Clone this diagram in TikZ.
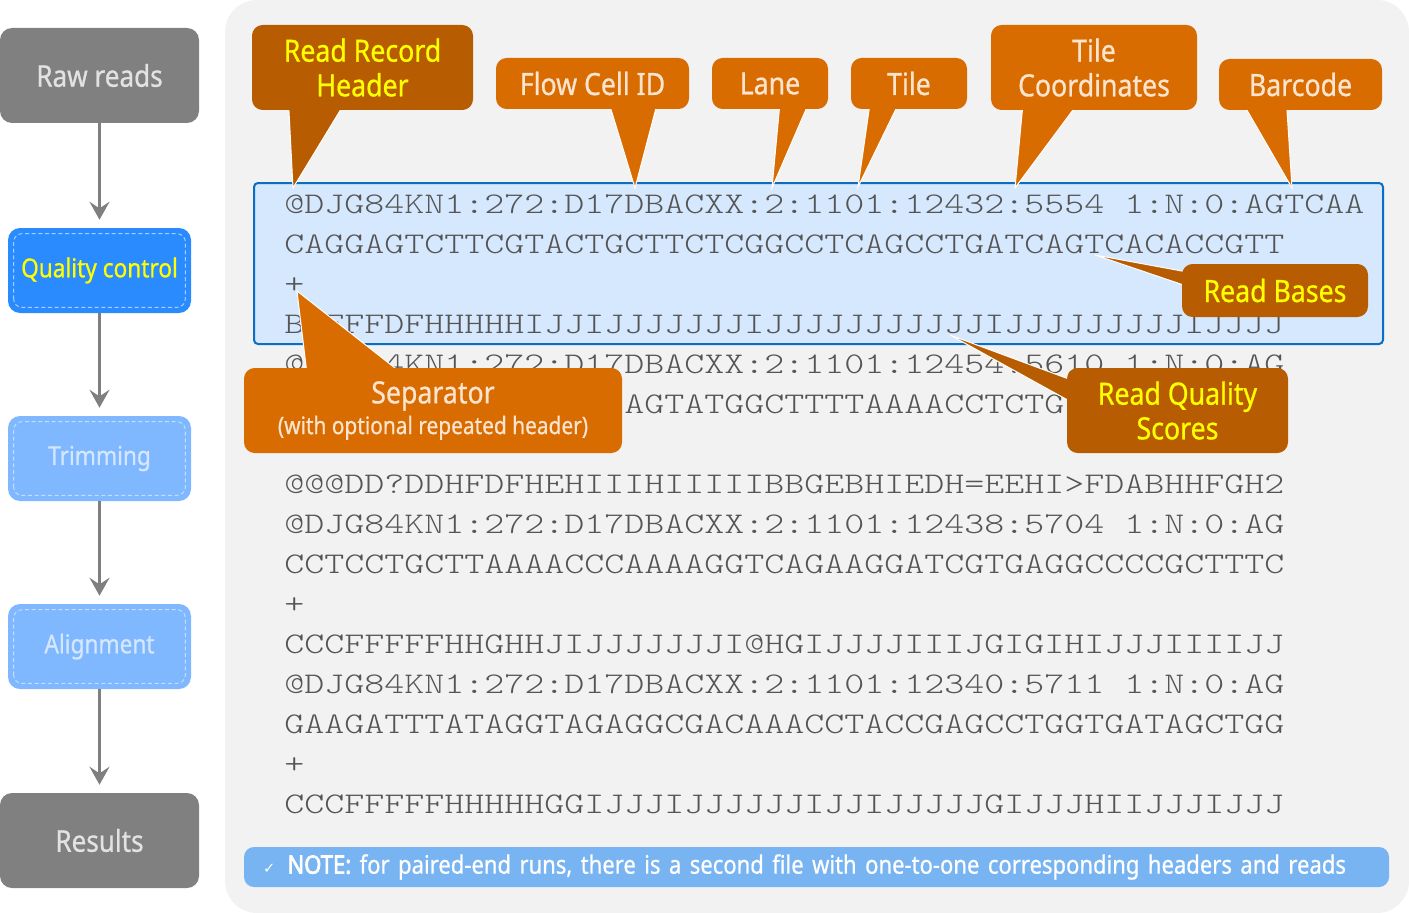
\documentclass[tikz,border=0pt]{standalone}
\usepackage{fontspec}
\setmainfont{Noto Sans}[FakeStretch=0.87, FakeBold=0.7]
\newfontfamily\notebold{Noto Sans}[FakeStretch=0.87, FakeBold=2.6]
\newfontfamily\seqfont{lmmonolt10-regular.otf}[FakeStretch=1.27]
\newfontfamily\symfont{DejaVu Sans}
\usetikzlibrary{arrows.meta,calc}

\definecolor{panelgray}{HTML}{F2F2F2}
\definecolor{hlblue}{HTML}{D6E8FE}
\definecolor{hlline}{HTML}{0A6EC4}
\definecolor{darkorange}{HTML}{B75C00}
\definecolor{lightorange}{HTML}{D86C00}
\definecolor{peach}{HTML}{FCE4CF}
\definecolor{callyellow}{HTML}{FFFF00}
\definecolor{stagegray}{HTML}{808080}
\definecolor{stagetext}{HTML}{E2E2E2}
\definecolor{qcblue}{HTML}{2A8BFF}
\definecolor{qcdash}{HTML}{A6CEFF}
\definecolor{fadeblue}{HTML}{7FB8FF}
\definecolor{fadedash}{HTML}{C2DDFF}
\definecolor{fadetext}{HTML}{D4E7FF}
\definecolor{flowgray}{HTML}{7F7F7F}
\definecolor{seqgray}{HTML}{555555}
\definecolor{noteblue}{HTML}{78B4F2}

\pgfdeclarelayer{back}
\pgfdeclarelayer{ptr}
\pgfsetlayers{back,ptr,main}

\tikzset{
  stage/.style={rounded corners=9pt, inner sep=0pt, minimum width=137.25pt, minimum height=63.75pt, font=\fontsize{19.5}{22}\selectfont},
  graystage/.style={stage, fill=stagegray, text=stagetext, minimum width=149.25pt, minimum height=71.25pt, font=\fontsize{22.5}{24}\selectfont},
  qcstage/.style={stage, fill=qcblue, text=callyellow},
  fadestage/.style={stage, fill=fadeblue, text=fadetext},
  dashrim/.style={dash pattern=on 3pt off 2pt, line width=0.75pt, rounded corners=6pt},
  flow/.style={draw=flowgray, line width=2.25pt, -{Stealth[length=13.5pt, width=15pt, inset=5pt]}, shorten >=6pt},
  seq/.style={anchor=base west, inner sep=0pt, text=seqgray, font=\seqfont\fontsize{22.5}{22.5}\selectfont},
  call/.style={rounded corners=8pt, inner sep=0pt, align=center, font=\fontsize{23}{26}\selectfont},
  darkcall/.style={call, fill=darkorange, text=callyellow},
  lightcall/.style={call, fill=lightorange, text=peach},
  pointer/.style={draw=white, line width=0.75pt, line join=miter},
  notebar/.style={fill=noteblue, rounded corners=7.5pt, inner xsep=14.375pt, inner ysep=0pt, minimum height=30pt, text width=830pt, align=left, text=white, font=\fontsize{19}{20}\selectfont}
}

\begin{document}
\begin{tikzpicture}[x=0.75pt, y=-0.75pt]
\useasboundingbox (0,0) rectangle (1409,913);

% workflow on the left
\node[graystage] (raw) at (99.5,75.5) {Raw reads};
\node[qcstage] (qc) at (99.5,270.5) {Quality control};
\node[fadestage] (trim) at (99.5,458.5) {Trimming};
\node[fadestage] (align) at (99.5,646.5) {Alignment};
\node[graystage] (res) at (99.5,840.5) {Results};
\draw[dashrim, qcdash] ($(qc.south west)+(6,-6)$) rectangle ($(qc.north east)+(-6,6)$);
\foreach \n in {trim,align}
  \draw[dashrim, fadedash] ($(\n.south west)+(6,-6)$) rectangle ($(\n.north east)+(-6,6)$);
\foreach \a/\b in {raw/qc, qc/trim, trim/align, align/res}
  \draw[flow] (\a) -- (\b);

% fastq panel
\begin{pgfonlayer}{back}
\fill[panelgray, rounded corners=24pt] (225,0) rectangle (1409,913);
\filldraw[fill=hlblue, draw=hlline, line width=1.5pt, rounded corners=3pt] (254,183) rectangle (1383,344);
\foreach \i/\s in {0/@DJG84KN1:272:D17DBACXX:2:1101:12432:5554 1:N:0:AGTCAA,
                   1/CAGGAGTCTTCGTACTGCTTCTCGGCCTCAGCCTGATCAGTCACACCGTT,
                   2/+,
                   3/BCFFFDFHHHHHIJJIJJJJJJJIJJJJJJJJJJJIJJJJJJJJJIJJJJ,
                   4/@DJG84KN1:272:D17DBACXX:2:1101:12454:5610 1:N:0:AG,
                   7/@@@DD?DDHFDFHEHIIIHIIIIIBBGEBHIEDH=EEHI>FDABHHFGH2,
                   8/@DJG84KN1:272:D17DBACXX:2:1101:12438:5704 1:N:0:AG,
                   9/CCTCCTGCTTAAAACCCAAAAGGTCAGAAGGATCGTGAGGCCCCGCTTTC,
                   10/+,
                   11/CCCFFFFFHHGHHJIJJJJJJJI@HGIJJJJIIIJGIGIHIJJJIIIIJJ,
                   12/@DJG84KN1:272:D17DBACXX:2:1101:12340:5711 1:N:0:AG,
                   13/GAAGATTTATAGGTAGAGGCGACAAACCTACCGAGCCTGGTGATAGCTGG,
                   14/+,
                   15/CCCFFFFFHHHHHGGIJJJIJJJJJJIJJIJJJJJGIJJJHIIJJJIJJJ}
  \node[seq] (l\i) at (284,213+40*\i) {\s};
\node[seq] (l5) at (624,413) {AGTATGGCTTTTAAAACCTCTG};
\end{pgfonlayer}

% callouts
\node[darkcall, minimum width=165.75pt, minimum height=63.75pt] (hdr) at (362.5,67.5) {Read Record\\Header};
\node[lightcall, minimum width=144.75pt, minimum height=38.25pt] (fcid) at (592.5,83.5) {Flow Cell ID};
\node[lightcall, minimum width=87pt, minimum height=38.25pt] (lane) at (770,83.5) {Lane};
\node[lightcall, minimum width=87pt, minimum height=38.25pt] (tile) at (909,83.5) {Tile};
\node[lightcall, minimum width=154.5pt, minimum height=63.75pt] (tco) at (1094,67.5) {Tile\\Coordinates};
\node[lightcall, minimum width=122.25pt, minimum height=38.25pt] (bc) at (1300.5,84.5) {Barcode};
\node[darkcall, minimum width=139.5pt, minimum height=39.75pt] (bases) at (1275,290.5) {Read Bases};
\node[darkcall, minimum width=165.75pt, minimum height=63.75pt] (qual) at (1177.5,410.5) {Read Quality\\Scores};
\node[lightcall, minimum width=283.5pt, minimum height=63.75pt] (sep) at (433,410.5)
  {Separator\\[-3pt]{\fontsize{18}{20}\selectfont (with optional repeated header)}};

\coordinate (hdrTip) at (293,188);
\coordinate (fcidTip) at (635,188);
\coordinate (laneTip) at (772,188);
\coordinate (tileTip) at (858,187);
\coordinate (tcoTip) at (1015,188);
\coordinate (bcTip) at (1292,188);
\coordinate (basesTip) at (1095,255);
\coordinate (qualTip) at (950,335);
\coordinate (sepTip) at (297,291);

\begin{pgfonlayer}{ptr}
\filldraw[pointer, fill=darkorange] ($(hdr.south west)+(37,-4)$) -- (hdrTip) -- ($(hdr.south west)+(91,-4)$) -- cycle;
\filldraw[pointer, fill=lightorange] ($(fcid.south west)+(114,-4)$) -- (fcidTip) -- ($(fcid.south west)+(161,-4)$) -- cycle;
\filldraw[pointer, fill=lightorange] ($(lane.south west)+(68,-4)$) -- (laneTip) -- ($(lane.south west)+(96,-4)$) -- cycle;
\filldraw[pointer, fill=lightorange] ($(tile.south west)+(19,-4)$) -- (tileTip) -- ($(tile.south west)+(47,-4)$) -- cycle;
\filldraw[pointer, fill=lightorange] ($(tco.south west)+(32,-4)$) -- (tcoTip) -- ($(tco.south west)+(85,-4)$) -- cycle;
\filldraw[pointer, fill=lightorange] ($(bc.south west)+(26,-4)$) -- (bcTip) -- ($(bc.south west)+(68,-4)$) -- cycle;
\filldraw[pointer, fill=darkorange] ($(bases.north west)+(4,8)$) -- (basesTip) -- ($(bases.north west)+(4,22)$) -- cycle;
\filldraw[pointer, fill=darkorange] ($(qual.north west)+(4,12)$) -- (qualTip) -- ($(qual.north west)+(4,34)$) -- cycle;
\filldraw[pointer, fill=lightorange] ($(sep.north west)+(63,4)$) -- (sepTip) -- ($(sep.north west)+(156,4)$) -- cycle;
\end{pgfonlayer}

% note
\node[notebar] (note) at (816.5,867) {{\symfont\fontsize{11}{12}\selectfont ✓}\hspace{9pt}{\notebold NOTE:} for paired-end runs, there is a second file with one-to-one corresponding headers and reads};
\end{tikzpicture}
\end{document}
